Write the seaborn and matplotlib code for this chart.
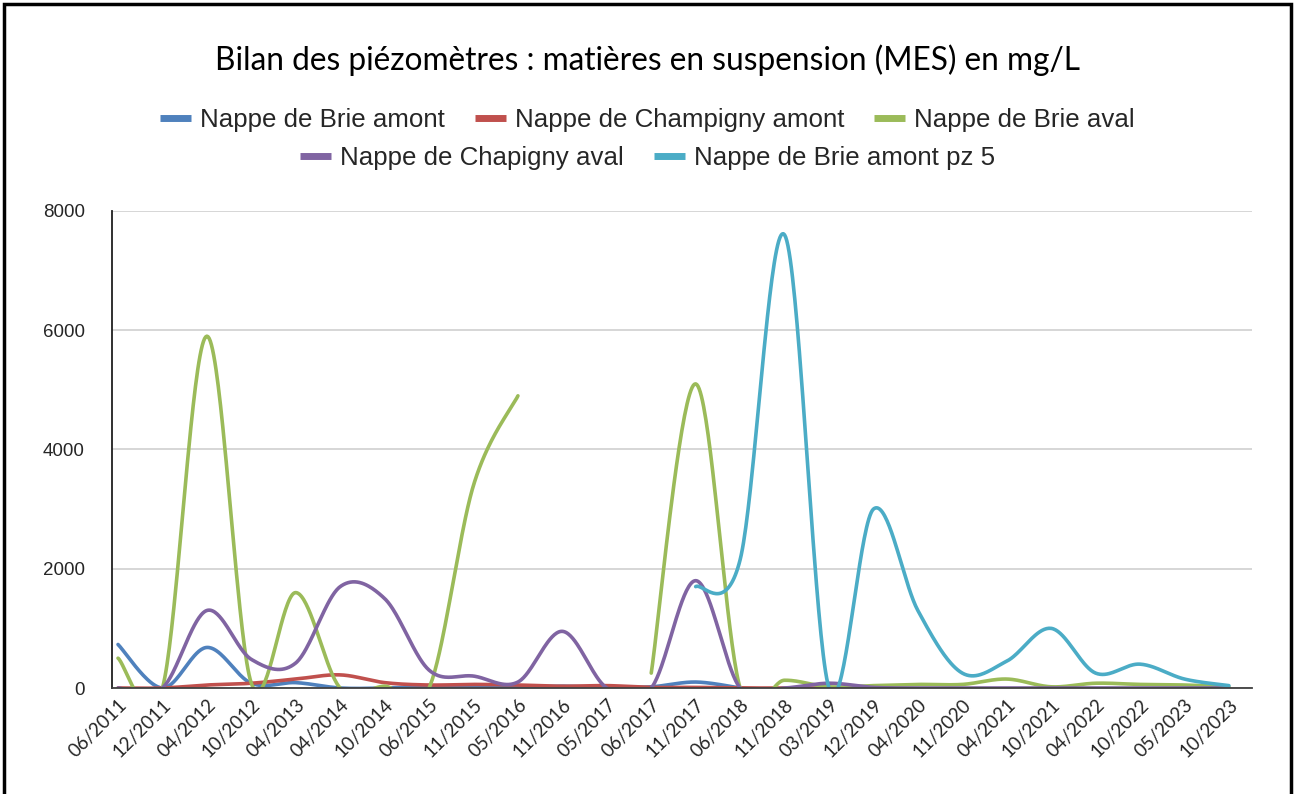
import numpy as np
import pandas as pd
import matplotlib
matplotlib.use("Agg")
import matplotlib.pyplot as plt
from matplotlib.lines import Line2D
from matplotlib.patches import Rectangle
import seaborn as sns

nan = np.nan

dates = ["06/2011", "12/2011", "04/2012", "10/2012", "04/2013", "04/2014",
         "10/2014", "06/2015", "11/2015", "05/2016", "11/2016", "05/2017",
         "06/2017", "11/2017", "06/2018", "11/2018", "03/2019", "12/2019",
         "04/2020", "11/2020", "04/2021", "10/2021", "04/2022", "10/2022",
         "05/2023", "10/2023"]

brie_amont = [730, 0, 680, 80, 90, 0, 0, 20, 30, 20, 30, 10, 20, 100, 0,
              nan, nan, nan, nan, nan, nan, nan, nan, nan, nan, nan]
champigny_amont = [0, 0, 50, 80, 150, 220, 90, 50, 60, 50, 30, 40, 10, 10, 0,
                   0, 0, nan, nan, nan, nan, nan, nan, nan, nan, nan]
brie_aval = [500, 0, 5900, 80, 1600, 0, 30, 0, 3400, 4900, nan, nan, 250,
             5100, 0, 130, 20, 40, 60, 60, 150, 20, 80, 60, 50, 20]
chapigny_aval = [0, 0, 1300, 480, 420, 1700, 1500, 300, 200, 100, 950, 0, 0,
                 1800, 0, 0, 80, 10, 0, 0, 0, 0, 0, 0, 0, 0]
brie_amont_pz5 = [nan] * 13 + [1700, 2150, 7600, 0, 3000, 1300, 250, 450,
                               1000, 250, 400, 150, 40]

series_names = ["Nappe de Brie amont", "Nappe de Champigny amont",
                "Nappe de Brie aval", "Nappe de Chapigny aval",
                "Nappe de Brie amont pz 5"]
series_values = [brie_amont, champigny_amont, brie_aval, chapigny_aval,
                 brie_amont_pz5]
colors = ["#4F81BD", "#C0504D", "#9BBB59", "#8064A2", "#4BACC6"]


def smooth_runs(values, steps=40):
    """Bezier smoothing of each contiguous run of values (spreadsheet-style)."""
    v = np.asarray(values, dtype=float)
    x = np.arange(len(v), dtype=float)
    ok = ~np.isnan(v)
    runs, start = [], None
    for i, flag in enumerate(ok):
        if flag and start is None:
            start = i
        if not flag and start is not None:
            runs.append((start, i))
            start = None
    if start is not None:
        runs.append((start, len(v)))
    out = []
    for rid, (a, b) in enumerate(runs):
        px, py = x[a:b], v[a:b]
        n = len(px)
        if n == 1:
            out.append((px, py, rid))
            continue
        xs, ys = [], []
        t = np.linspace(0, 1, steps)
        for i in range(n - 1):
            im1 = max(i - 1, 0)
            ip2 = min(i + 2, n - 1)
            p0 = np.array([px[i], py[i]])
            p3 = np.array([px[i + 1], py[i + 1]])
            c1 = p0 + (p3 - np.array([px[im1], py[im1]])) / 6.0
            c2 = p3 - (np.array([px[ip2], py[ip2]]) - p0) / 6.0
            b0 = (1 - t) ** 3
            b1 = 3 * (1 - t) ** 2 * t
            b2 = 3 * (1 - t) * t ** 2
            b3 = t ** 3
            seg = (np.outer(b0, p0) + np.outer(b1, c1) + np.outer(b2, c2)
                   + np.outer(b3, p3))
            if i > 0:
                seg = seg[1:]
            xs.append(seg[:, 0])
            ys.append(seg[:, 1])
        out.append((np.concatenate(xs), np.concatenate(ys), rid))
    return out


frames = []
for name, vals in zip(series_names, series_values):
    for xs, ys, rid in smooth_runs(vals):
        frames.append(pd.DataFrame({"x": xs, "y": ys, "serie": name,
                                    "run": f"{name}-{rid}"}))
df = pd.concat(frames, ignore_index=True)

sns.set_theme(style="white")
plt.rcParams["font.family"] = ["Liberation Sans", "DejaVu Sans"]

fig = plt.figure(figsize=(12.95, 7.94), dpi=100)
ax = fig.add_axes([0.0865, 0.1335, 0.9668 - 0.0865, 0.7343 - 0.1335])

sns.lineplot(data=df, x="x", y="y", hue="serie", units="run",
             estimator=None, sort=False, palette=dict(zip(series_names, colors)),
             hue_order=series_names, linewidth=2.6, legend=False, ax=ax)

ax.set_xlim(-0.135, 25.52)
ax.set_ylim(0, 8000)
ax.set_yticks([0, 2000, 4000, 6000, 8000])
ax.set_yticklabels(["0", "2000", "4000", "6000", "8000"], fontsize=13.5)
ax.set_xticks(range(len(dates)))
ax.set_xticklabels(dates, rotation=45, ha="right", rotation_mode="anchor",
                   fontsize=13.5, family=["Lato", "DejaVu Sans"])
ax.tick_params(axis="x", length=0, pad=6)
ax.tick_params(axis="y", length=0, pad=19.5)
ax.set_xlabel("")
ax.set_ylabel("")
ax.yaxis.grid(True, color="#D0D0D0", linewidth=1.2)
ax.xaxis.grid(False)
ax.set_axisbelow(True)
for side in ("top", "right"):
    ax.spines[side].set_visible(False)
ax.spines["left"].set_color("#202020")
ax.spines["left"].set_linewidth(1.3)
ax.spines["bottom"].set_color("#404040")
ax.spines["bottom"].set_linewidth(1.3)

fig.text(0.5, 0.924, "Bilan des piézomètres : matières en suspension (MES) en mg/L",
         ha="center", va="center", fontsize=22.8, color="black",
         family=["Lato", "DejaVu Sans"])

handles = [Line2D([0], [0], color=c, lw=5, solid_capstyle="butt") for c in colors]
leg_kw = dict(loc="center", frameon=False, fontsize=18.6, handlelength=1.2,
              handletextpad=0.35, columnspacing=1.15, borderpad=0,
              borderaxespad=0)
leg1 = fig.legend(handles[:3], series_names[:3], ncol=3,
                  bbox_to_anchor=(0.5, 0.849), **leg_kw)
leg2 = fig.legend(handles[3:], series_names[3:], ncol=2,
                  bbox_to_anchor=(0.5, 0.801), **leg_kw)

fig.patches.append(Rectangle((0.003, -0.02), 0.994, 1.015,
                             transform=fig.transFigure, fill=False,
                             edgecolor="black", linewidth=2.5))

fig.savefig("out.png", dpi=100, facecolor="white")
